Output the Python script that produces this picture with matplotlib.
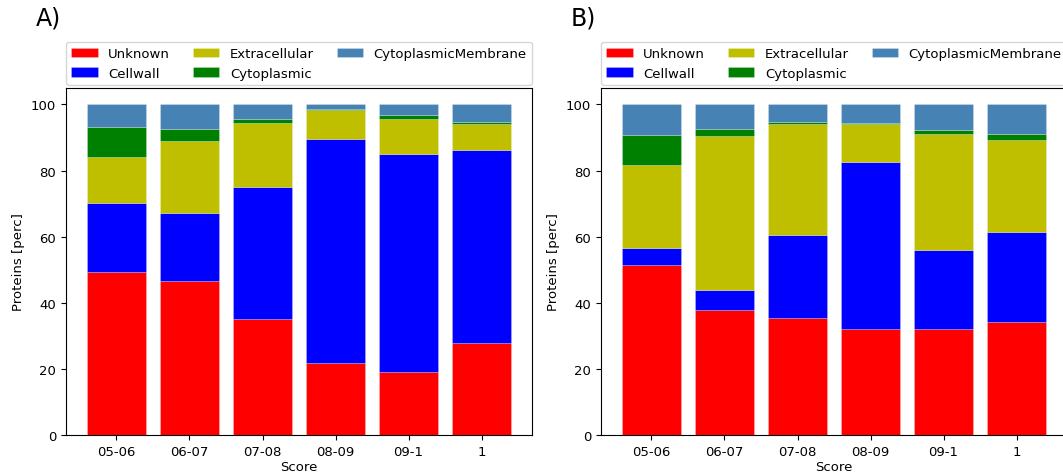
import matplotlib
matplotlib.use('Agg')
import matplotlib.pyplot as plt
import numpy as np

scores = ['05-06', '06-07', '07-08', '08-09', '09-1', '1']
locations = ['Unknown', 'Cellwall', 'Extracellular', 'Cytoplasmic', 'CytoplasmicMembrane']
colors = ['red', 'blue', 'y', 'green', 'steelblue']

# percent of proteins per localisation, one list per score bin
a_unknown = [49.3, 46.5, 35.0, 21.9, 19.2, 27.9]
a_cellwall = [21.0, 20.8, 39.9, 67.7, 65.7, 58.3]
a_extracellular = [13.7, 21.6, 19.5, 8.7, 10.8, 8.0]
a_cytoplasmic = [9.2, 3.6, 1.1, 0.3, 1.0, 0.6]
a_membrane = [6.8, 7.5, 4.5, 1.4, 3.3, 5.2]

b_unknown = [51.4, 37.7, 35.5, 32.2, 32.2, 34.3]
b_cellwall = [5.3, 6.1, 25.1, 50.5, 23.8, 27.0]
b_extracellular = [25.0, 46.8, 33.4, 11.3, 35.0, 27.9]
b_cytoplasmic = [9.2, 2.0, 0.6, 0.3, 1.2, 1.9]
b_membrane = [9.1, 7.4, 5.4, 5.7, 7.8, 8.9]

plt.rcParams.update({'font.size': 9.5})


def stacked(ax, series):
    x = np.arange(len(scores))
    bottom = np.zeros(len(scores))
    for name, vals, col in zip(locations, series, colors):
        ax.bar(x, vals, 0.8, bottom=bottom, color=col, label=name,
               edgecolor=(1, 1, 1, 0.4), linewidth=0.4)
        bottom += np.array(vals)
    ax.set_xticks(x)
    ax.set_xticklabels(scores)
    ax.set_xlabel('Score', labelpad=2)
    ax.set_ylabel('Proteins [perc]')
    ax.legend(loc='lower left', bbox_to_anchor=(0, 1.009, 1, 0.1), ncol=3,
              mode='expand', borderaxespad=0.)


fig = plt.figure(figsize=(10.63, 4.77), dpi=100)
ax1 = fig.add_axes([0.0621, 0.086, 0.4384, 0.7275])
ax2 = fig.add_axes([0.5654, 0.086, 0.4384, 0.7275])

stacked(ax1, [a_unknown, a_cellwall, a_extracellular, a_cytoplasmic, a_membrane])
stacked(ax2, [b_unknown, b_cellwall, b_extracellular, b_cytoplasmic, b_membrane])

fig.text(0.034, 0.962, 'A)', fontsize=17, va='center')
fig.text(0.537, 0.962, 'B)', fontsize=17, va='center')

plt.savefig('out.png', dpi=100)
plt.close(fig)
